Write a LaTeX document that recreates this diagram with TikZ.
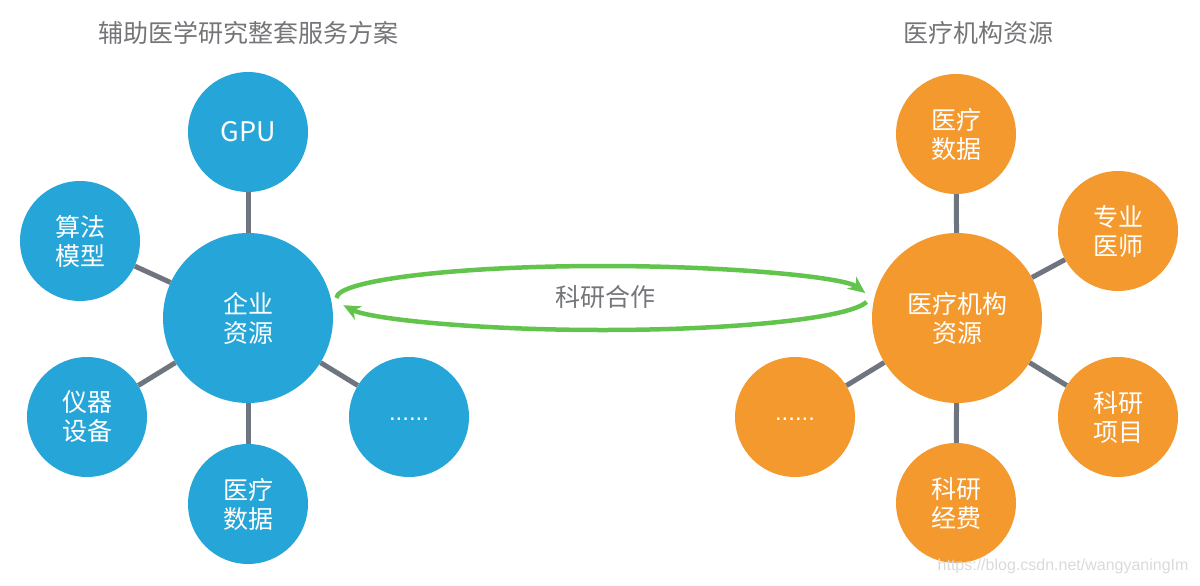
\documentclass[tikz,border=0pt]{standalone}
\usepackage{fontspec}
\setmainfont{Noto Sans CJK SC}
\newfontfamily\wmfont{Liberation Sans}
\usetikzlibrary{arrows.meta,calc}
\definecolor{cblue}{RGB}{38,165,216}
\definecolor{corange}{RGB}{244,153,46}
\definecolor{cgreen}{RGB}{98,196,76}
\definecolor{cline}{RGB}{110,117,126}
\definecolor{ctitle}{RGB}{115,117,120}
\definecolor{cwm}{RGB}{218,218,218}
\tikzset{
  bubble/.style={circle,inner sep=0pt,minimum size=120pt,text=white,align=center,
    font=\fontsize{25}{29}\selectfont},
  hub/.style={bubble,minimum size=170pt},
  bluefill/.style={fill=cblue},
  orangefill/.style={fill=corange},
  dotstext/.style={font=\wmfont\fontsize{24}{29}\selectfont},
  spoke/.style={draw=cline,line width=5pt},
  coop/.style={draw=cgreen,line width=4.5pt,-{Stealth[length=17pt,width=15pt]}},
  titletext/.style={text=ctitle,font=\fontsize{25}{29}\selectfont}
}
\begin{document}
\begin{tikzpicture}[x=1pt,y=1pt]
\useasboundingbox (0,0) rectangle (1200,-586);
% left group
\node[hub,bluefill] (L) at (248,-318) {企业\\资源};
\node[bubble,bluefill,font=\fontsize{27}{29}\selectfont] (gpu) at (248,-132) {GPU};
\node[bubble,bluefill] (alg) at (80,-241) {算法\\模型};
\node[bubble,bluefill] (dev) at (87,-417) {仪器\\设备};
\node[bubble,bluefill] (ldata) at (248,-504) {医疗\\数据};
\node[bubble,bluefill,dotstext] (ldots) at (409,-417) {\smash{\raisebox{-3pt}{......}}};
% right group
\node[hub,orangefill] (R) at (957,-318) {医疗机构\\资源};
\node[bubble,orangefill] (rdata) at (956,-134) {医疗\\数据};
\node[bubble,orangefill] (doc) at (1118,-231) {专业\\医师};
\node[bubble,orangefill] (proj) at (1118,-417) {科研\\项目};
\node[bubble,orangefill] (fund) at (956,-503) {科研\\经费};
\node[bubble,orangefill,dotstext] (rdots) at (795,-417) {\smash{\raisebox{-3pt}{......}}};
% spokes
\foreach \n in {gpu,alg,dev,ldata,ldots} \draw[spoke] (L) -- (\n);
\foreach \n in {rdata,doc,proj,fund,rdots} \draw[spoke] (R) -- (\n);
% titles
\node[titletext] (tl) at (248,-33) {辅助医学研究整套服务方案};
\node[titletext] (tr) at (978,-33) {医疗机构资源};
% cooperation arrows
\coordinate (ec) at ($(L)!0.5!(R)+(0,20)$);
\draw[coop] ($(ec)+(180:266 and 32)$) arc[start angle=180,end angle=9,x radius=266,y radius=32];
\draw[coop] ($(ec)+(-7:266 and 32)$) arc[start angle=-7,end angle=-167,x radius=266,y radius=32];
\node[titletext] (coopl) at (605,-297) {科研合作};
% watermark
\node[text=cwm,font=\wmfont\fontsize{16}{20}\selectfont,anchor=east] (wm) at (1192,-566) {https://blog.csdn.net/wangyaningIm};
\end{tikzpicture}
\end{document}
